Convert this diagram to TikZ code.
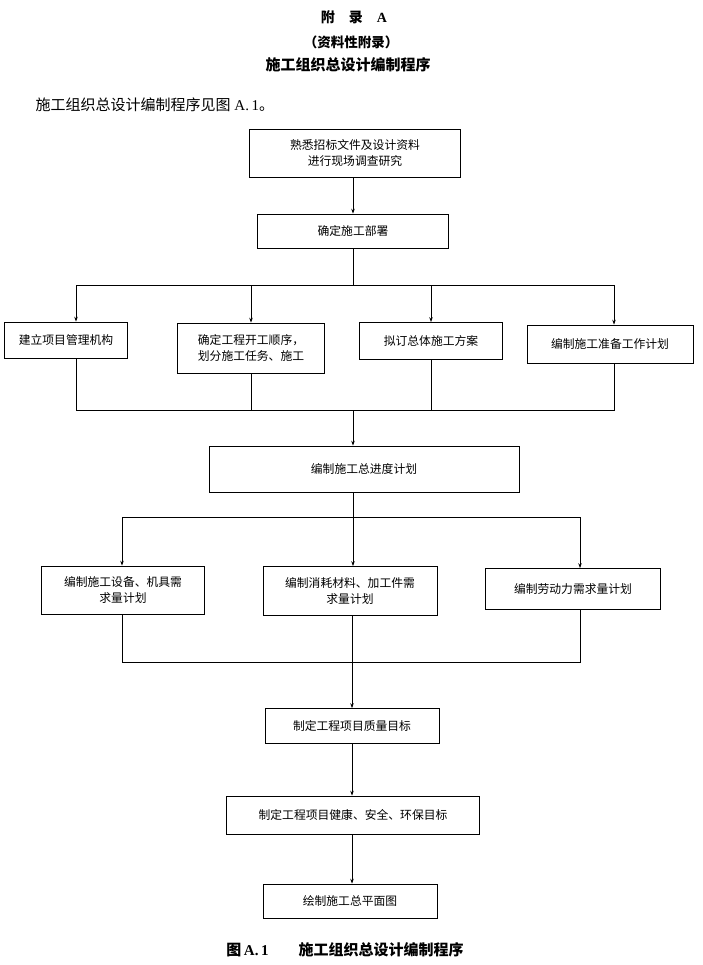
\documentclass[tikz,border=0pt]{standalone}
\usepackage{fontspec}
\setmainfont{Liberation Serif}
\newfontfamily\cjk{Noto Sans CJK SC}
\usetikzlibrary{arrows.meta}
\usetikzlibrary{positioning}

\begin{document}
\begin{tikzpicture}[>={Stealth[length=5pt,width=3.5pt]}, x=1pt, y=-1pt,
  line width=0.7pt,
  procbox/.style={draw, align=center, inner sep=0pt, font=\cjk\fontsize{11.8}{16}\selectfont},
  heading/.style={font=\cjk\bfseries}]

  \useasboundingbox (0,0) rectangle (703,965);

  % headings
  \node[heading] (fulu) at (354,17) {\fontsize{14}{16}\selectfont 附\quad 录\quad{\rmfamily A}};
  \node[heading] (ziliao) at (351,42) {\fontsize{13.5}{16}\selectfont （资料性附录）};
  \node[heading] (biaoti) at (348,65) {\fontsize{15}{17}\selectfont 施工组织总设计编制程序};
  \node[anchor=west, font=\fontsize{15}{17}\selectfont] (yinyan) at (32,105) {{\cjk 施工组织总设计编制程序见图} A.\,1{\cjk 。}};

  % boxes
  \node[procbox, minimum width=211, minimum height=48] (shuxi) at (355,153) {熟悉招标文件及设计资料\\进行现场调查研究};
  \node[procbox, minimum width=191, minimum height=34] (bushu) at (353,231) {确定施工部署};

  \node[procbox, minimum width=123, minimum height=36] (jigou) at (66,340) {建立项目管理机构};
  \node[procbox, minimum width=147, minimum height=50] (shunxu) at (251,348) {确定工程开工顺序，\\划分施工任务、施工};
  \node[procbox, minimum width=143, minimum height=37] (fangan) at (431,341) {拟订总体施工方案};
  \node[procbox, minimum width=166, minimum height=38] (zhunbei) at (610,344) {编制施工准备工作计划};

  \node[procbox, minimum width=310, minimum height=46] (jindu) at (364,469) {编制施工总进度计划};

  \node[procbox, minimum width=163, minimum height=48] (shebei) at (123,590) {编制施工设备、机具需\\求量计划};
  \node[procbox, minimum width=174, minimum height=49] (cailiao) at (350,591) {编制消耗材料、加工件需\\求量计划};
  \node[procbox, minimum width=175, minimum height=41] (laodong) at (573,589) {编制劳动力需求量计划};

  \node[procbox, minimum width=174, minimum height=35] (zhiliang) at (352,726) {制定工程项目质量目标};
  \node[procbox, minimum width=253, minimum height=38] (huanbao) at (353,815) {制定工程项目健康、安全、环保目标};
  \node[procbox, minimum width=174, minimum height=34] (pingmian) at (350,901) {绘制施工总平面图};

  \node[heading] (tuming) at (345,950) {\fontsize{15}{17}\selectfont 图\,{\rmfamily A.\,1}\qquad 施工组织总设计编制程序};

  % bus points
  \coordinate (fenA) at (353,285);
  \coordinate (fenL) at (76,285);
  \coordinate (fenR) at (614,285);
  \coordinate (heA) at (353,410);
  \coordinate (heL) at (76,410);
  \coordinate (heR) at (614,410);
  \coordinate (fenB) at (353,517);
  \coordinate (fenBL) at (122,517);
  \coordinate (fenBR) at (580,517);
  \coordinate (heB) at (352,662);
  \coordinate (heBL) at (122,662);
  \coordinate (heBR) at (580,662);

  % connectors
  \draw[->] (shuxi.south -| bushu) -- (bushu.north);
  \draw (bushu.south) -- (bushu.south |- fenA);
  \draw (fenL) -- (fenR);
  \draw[->] (fenL) -- (fenL |- jigou.north);
  \draw[->] (fenL -| shunxu) -- (shunxu.north);
  \draw[->] (fenL -| fangan) -- (fangan.north);
  \draw[->] (fenR) -- (fenR |- zhunbei.north);

  \draw (heL |- jigou.south) -- (heL) -- (heR) -- (heR |- zhunbei.south);
  \draw (shunxu.south) -- (shunxu.south |- heA);
  \draw (fangan.south) -- (fangan.south |- heA);
  \draw[->] (heA) -- (heA |- jindu.north);

  \draw (heA |- jindu.south) -- (fenB);
  \draw (fenBL) -- (fenBR);
  \draw[->] (fenBL) -- (fenBL |- shebei.north);
  \draw[->] (fenB) -- (fenB |- cailiao.north);
  \draw[->] (fenBR) -- (fenBR |- laodong.north);

  \draw (fenBL |- shebei.south) -- (heBL) -- (heBR) -- (fenBR |- laodong.south);
  \draw (heB |- cailiao.south) -- (heB);
  \draw[->] (heB) -- (heB |- zhiliang.north);

  \draw[->] (zhiliang.south) -- (zhiliang.south |- huanbao.north);
  \draw[->] (zhiliang.south |- huanbao.south) -- (zhiliang.south |- pingmian.north);

\end{tikzpicture}
\end{document}
